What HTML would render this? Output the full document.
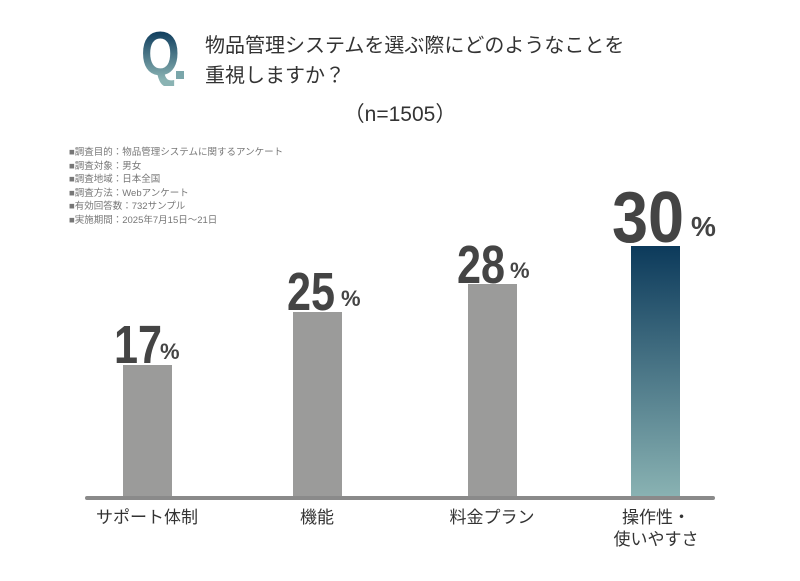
<!DOCTYPE html>
<html><head><meta charset="utf-8"><style>
body{margin:0;width:800px;height:581px;background:#fff;position:relative;overflow:hidden;font-family:"Liberation Sans","Noto Sans CJK JP",sans-serif;color:#333}
.a{position:absolute;white-space:nowrap}
.bar{position:absolute;width:49px;background:#9b9b9a}
.num{position:absolute;font-family:"Liberation Sans",sans-serif;font-weight:bold;color:#444;white-space:nowrap;line-height:1;transform:scaleX(0.8);transform-origin:left top}
.pc{position:absolute;font-family:"Liberation Sans",sans-serif;font-weight:bold;color:#444;font-size:22px;line-height:1}
.lab{position:absolute;width:160px;text-align:center;font-size:17px;color:#333;line-height:22px}
.notes{position:absolute;left:69px;top:146px;font-size:9.5px;color:#777;line-height:13.6px}
</style></head><body>
<div class="a" style="left:141px;top:24px;font-family:'Liberation Sans',sans-serif;font-weight:bold;font-size:62px;line-height:62px;background:linear-gradient(#0c3a5b 10%,#8ab3b3 90%);-webkit-background-clip:text;color:transparent;transform:scaleX(0.8);transform-origin:left top">Q</div>
<div class="a" style="left:176px;top:71px;width:8px;height:8px;background:#7aa6aa"></div>
<div class="a" style="left:205px;top:31px;font-size:20px;line-height:30px;color:#333">物品管理システムを選ぶ際にどのようなことを<br>重視しますか？</div>
<div class="a" style="left:0;width:800px;text-align:center;top:98px;font-size:21px;color:#333">（n=1505）</div>
<div class="notes">■調査目的：物品管理システムに関するアンケート<br>■調査対象：男女<br>■調査地域：日本全国<br>■調査方法：Webアンケート<br>■有効回答数：732サンプル<br>■実施期間：2025年7月15日～21日</div>

<div class="bar" style="left:123px;top:365px;height:133px"></div>
<div class="bar" style="left:293px;top:312px;height:186px"></div>
<div class="bar" style="left:468px;top:284px;height:214px"></div>
<div class="bar" style="left:631px;top:246px;height:252px;background:linear-gradient(#0c3a5b,#8ab3b3)"></div>
<div class="a" style="left:85px;top:496px;width:630px;height:4px;background:#8a8a8a;border-radius:2px"></div>

<div class="num" style="left:114px;top:318px;font-size:54px">17</div><div class="pc" style="left:160px;top:341px">%</div>
<div class="num" style="left:287px;top:265px;font-size:54px">25</div><div class="pc" style="left:341px;top:288px">%</div>
<div class="num" style="left:457px;top:238px;font-size:54px">28</div><div class="pc" style="left:510px;top:260px">%</div>
<div class="num" style="left:612px;top:182px;font-size:72px;transform:scaleX(0.9)">30</div><div class="pc" style="left:691px;top:213px;font-size:28px">%</div>

<div class="lab" style="left:67px;top:507px">サポート体制</div>
<div class="lab" style="left:237px;top:507px">機能</div>
<div class="lab" style="left:412px;top:507px">料金プラン</div>
<div class="lab" style="left:576px;top:507px">操作性・<br>使いやすさ</div>
</body></html>
